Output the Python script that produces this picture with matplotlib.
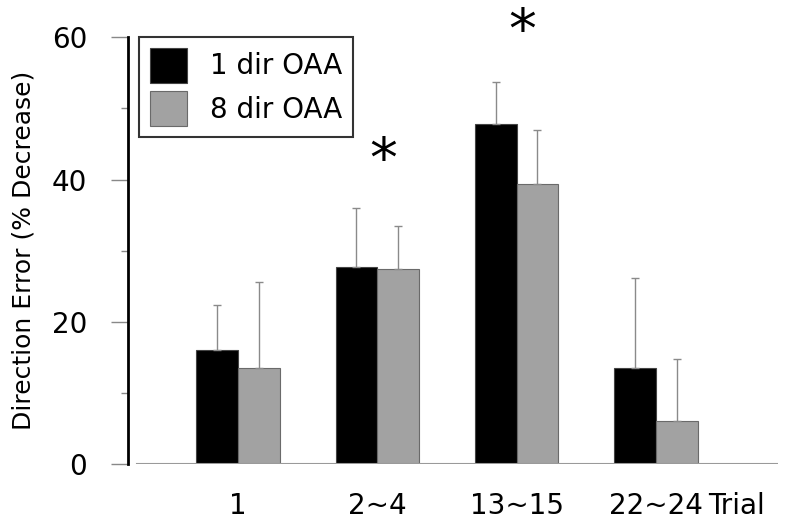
import numpy as np
import matplotlib
matplotlib.use("Agg")
import matplotlib.pyplot as plt

# data
trials = ["1", "2~4", "13~15", "22~24"]
one_dir = [16.0, 27.7, 47.8, 13.5]
one_dir_err = [6.3, 8.3, 5.9, 12.6]
eight_dir = [13.5, 27.4, 39.4, 6.0]
eight_dir_err = [12.1, 6.1, 7.5, 8.7]
star_groups = [1, 2]
star_heights = [42.5, 60.6]

x = np.arange(len(trials))
w = 0.3

fig = plt.figure(figsize=(7.85, 5.25), dpi=100)
ax = fig.add_axes([0.1626, 0.1162, 0.8284, 0.8128])

err_kw = dict(ecolor="#8a8a8a", elinewidth=1.0, capsize=3, capthick=1.0)
ax.bar(x - w / 2, one_dir, w, color="black", edgecolor="#444444", linewidth=0.8,
       yerr=[np.zeros(4), one_dir_err], error_kw=err_kw, label="1 dir OAA", zorder=2)
ax.bar(x + w / 2, eight_dir, w, color="#a2a2a2", edgecolor="#6a6a6a", linewidth=0.8,
       yerr=[np.zeros(4), eight_dir_err], error_kw=err_kw, label="8 dir OAA", zorder=2)

# significance stars
for g, h in zip(star_groups, star_heights):
    ax.text(g + 0.04, h, "*", fontsize=40, ha="center", va="center", clip_on=False)

ax.set_xlim(-0.793, 3.877)
ax.set_ylim(0, 60)
ax.set_yticks([0, 20, 40, 60])
ax.set_yticks([10, 30, 50], minor=True)
ax.set_xticks(x)
ax.set_xticklabels(trials)

for s in ["top", "right", "bottom"]:
    ax.spines[s].set_visible(False)
ax.spines["left"].set_linewidth(2)
ax.axhline(0, xmin=0.0145, xmax=1, color="#9a9a9a", lw=1.5, zorder=3)

ax.tick_params(axis="y", which="major", length=12, width=1, color="#888888",
               labelsize=20, pad=17)
ax.tick_params(axis="y", which="minor", length=5, width=1, color="#888888")
ax.tick_params(axis="x", length=0, labelsize=20, pad=20)

ax.annotate("Trial", xy=(3.374, 0), xycoords=("data", "axes fraction"),
            xytext=(0, -20), textcoords="offset points", fontsize=20,
            ha="left", va="top", annotation_clip=False)

ax.set_ylabel("Direction Error (% Decrease)", fontsize=18)
ax.yaxis.set_label_coords(-0.142, 0.5)

leg = ax.legend(loc="upper left", bbox_to_anchor=(0.0175, 1.0), fontsize=20,
                frameon=True, fancybox=False, handlelength=1.33, handleheight=1.56,
                handletextpad=0.86, labelspacing=0.3, borderpad=0.38,
                borderaxespad=0)
leg.get_frame().set_edgecolor("black")
leg.get_frame().set_linewidth(1.5)

fig.savefig("out.png", dpi=100)
